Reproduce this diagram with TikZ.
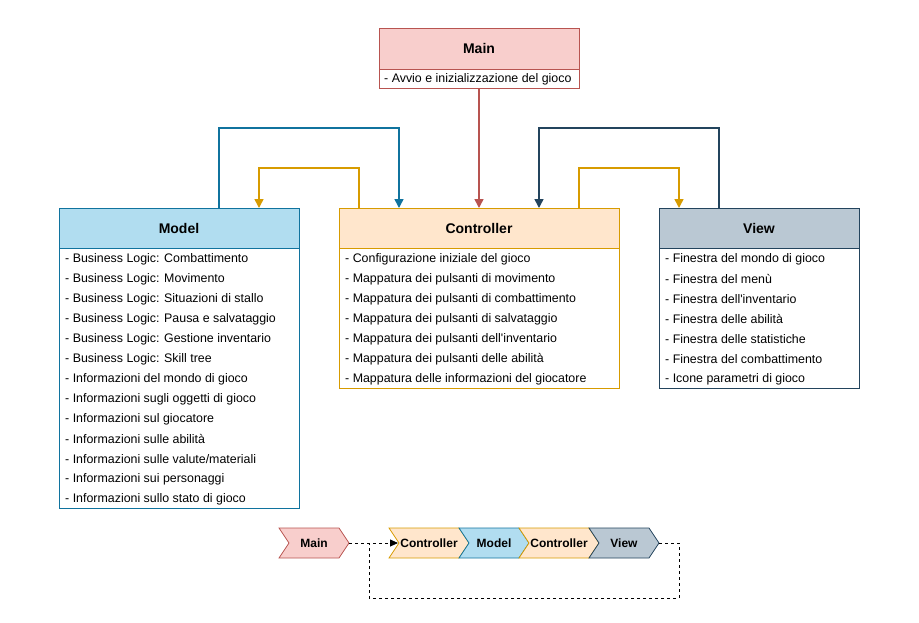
\documentclass[tikz,border=0pt]{standalone}
\usepackage{fontspec}
\setmainfont{Liberation Sans}
\usetikzlibrary{arrows.meta,calc}
\definecolor{mainF}{HTML}{F8CECC}\definecolor{mainS}{HTML}{B85450}
\definecolor{modF}{HTML}{B1DDF0}\definecolor{modS}{HTML}{10739E}
\definecolor{ctlF}{HTML}{FFE6CC}\definecolor{ctlS}{HTML}{D79B00}
\definecolor{viewF}{HTML}{BAC8D3}\definecolor{viewS}{HTML}{23445D}
\begin{document}
\begin{tikzpicture}[x=1pt,y=-1pt,
  hdr/.style={draw=#1S,fill=#1F,line width=0.8pt,inner sep=0pt,outer sep=0pt,minimum height=40pt,font=\fontsize{14}{16}\selectfont\bfseries,anchor=north west},
  body/.style={draw=#1S,fill=white,line width=0.8pt,inner sep=0pt,outer sep=0pt,anchor=north west},
  row/.style={anchor=west,inner sep=0pt,font=\fontsize{12.4}{14}\selectfont},
  conn/.style={draw=#1,line width=1.6pt,-{Triangle[length=9pt,width=9pt]}},
  chev/.style={draw=#1S,fill=#1F,line width=0.8pt},
  chevt/.style={font=\fontsize{12}{14}\selectfont\bfseries,inner sep=0pt},
  dsh/.style={draw=black,line width=0.8pt,dash pattern=on 3pt off 3pt}]
\useasboundingbox (0,0) rectangle (919,622);

% Main
\node[hdr=main,minimum width=200pt,minimum height=41pt] (mainH) at (379,28) {Main};
\node[body=main,minimum width=200pt,minimum height=19pt] (mainB) at (379,69) {};
\node[row] (mainR1) at (384,79) {- Avvio e inizializzazione del gioco};

% Model
\node[hdr=mod,minimum width=240pt] (modH) at (59,208) {Model};
\node[body=mod,minimum width=240pt,minimum height=260pt] (modB) at (59,248) {};
\foreach \t [count=\i] in {Business Logic: Combattimento,Business Logic: Movimento,Business Logic: Situazioni di stallo,Business Logic: Pausa e salvataggio,Business Logic: Gestione inventario,Business Logic: Skill tree,Informazioni del mondo di gioco,Informazioni sugli oggetti di gioco,Informazioni sul giocatore,Informazioni sulle abilità,Informazioni sulle valute/materiali,Informazioni sui personaggi,Informazioni sullo stato di gioco}
  \node[row] (modR\i) at (65,{248+20*\i-9}) {- \t};

% Controller
\node[hdr=ctl,minimum width=280pt] (ctlH) at (339,208) {Controller};
\node[body=ctl,minimum width=280pt,minimum height=140pt] (ctlB) at (339,248) {};
\foreach \t [count=\i] in {Configurazione iniziale del gioco,Mappatura dei pulsanti di movimento,Mappatura dei pulsanti di combattimento,Mappatura dei pulsanti di salvataggio,Mappatura dei pulsanti dell\textquotesingle inventario,Mappatura dei pulsanti delle abilità,Mappatura delle informazioni del giocatore}
  \node[row] (ctlR\i) at (345,{248+20*\i-9}) {- \t};

% View
\node[hdr=view,minimum width=200pt] (viewH) at (659,208) {View};
\node[body=view,minimum width=200pt,minimum height=140pt] (viewB) at (659,248) {};
\foreach \t [count=\i] in {Finestra del mondo di gioco,Finestra del menù,Finestra dell\textquotesingle inventario,Finestra delle abilità,Finestra delle statistiche,Finestra del combattimento,Icone parametri di gioco}
  \node[row] (viewR\i) at (665,{248+20*\i-9}) {- \t};

% connectors
\coordinate (mA) at ($(modH.north west)+(160,0)$);
\coordinate (mB) at ($(modH.north west)+(200,0)$);
\coordinate (cA) at ($(ctlH.north west)+(20,0)$);
\coordinate (cB) at ($(ctlH.north west)+(60,0)$);
\coordinate (cC) at ($(ctlH.north west)+(200,0)$);
\coordinate (cD) at ($(ctlH.north west)+(240,0)$);
\coordinate (vA) at ($(viewH.north west)+(20,0)$);
\coordinate (vB) at ($(viewH.north west)+(60,0)$);
\draw[conn=modS] (mA) -- ++(0,-80) -| (cB);
\draw[conn=ctlS] (cA) -- ++(0,-40) -| (mB);
\draw[conn=mainS] (mainB.south) -- (ctlH.north);
\draw[conn=viewS] (vB) -- ++(0,-80) -| (cC);
\draw[conn=ctlS] (cD) -- ++(0,-40) -| (vA);

% chevrons
\draw[chev=main] (279,528) -- (339,528) -- (349,543) -- (339,558) -- (279,558) -- (289,543) -- cycle;
\node[chevt] (chMain) at (314,543) {Main};
\draw[chev=ctl] (389,528) -- (459,528) -- (469,543) -- (459,558) -- (389,558) -- (399,543) -- cycle;
\node[chevt] (chC1) at (429,543) {Controller};
\draw[chev=mod] (459,528) -- (519,528) -- (529,543) -- (519,558) -- (459,558) -- (469,543) -- cycle;
\node[chevt] (chM) at (494,543) {Model};
\draw[chev=ctl] (519,528) -- (589,528) -- (599,543) -- (589,558) -- (519,558) -- (529,543) -- cycle;
\node[chevt] (chC2) at (559,543) {Controller};
\draw[chev=view] (589,528) -- (649,528) -- (659,543) -- (649,558) -- (589,558) -- (599,543) -- cycle;
\node[chevt] (chV) at (624,543) {View};
\coordinate (mainTip) at (349,543);
\coordinate (c1Notch) at (398,543);
\coordinate (viewTip) at (659,543);
\coordinate (loopJ) at (369,543);
\draw[dsh,-{Triangle[length=8pt,width=7pt]}] (mainTip) -- (c1Notch);
\draw[dsh] (viewTip) -- ++(20,0) -- ++(0,55) -| (loopJ);
\end{tikzpicture}
\end{document}
